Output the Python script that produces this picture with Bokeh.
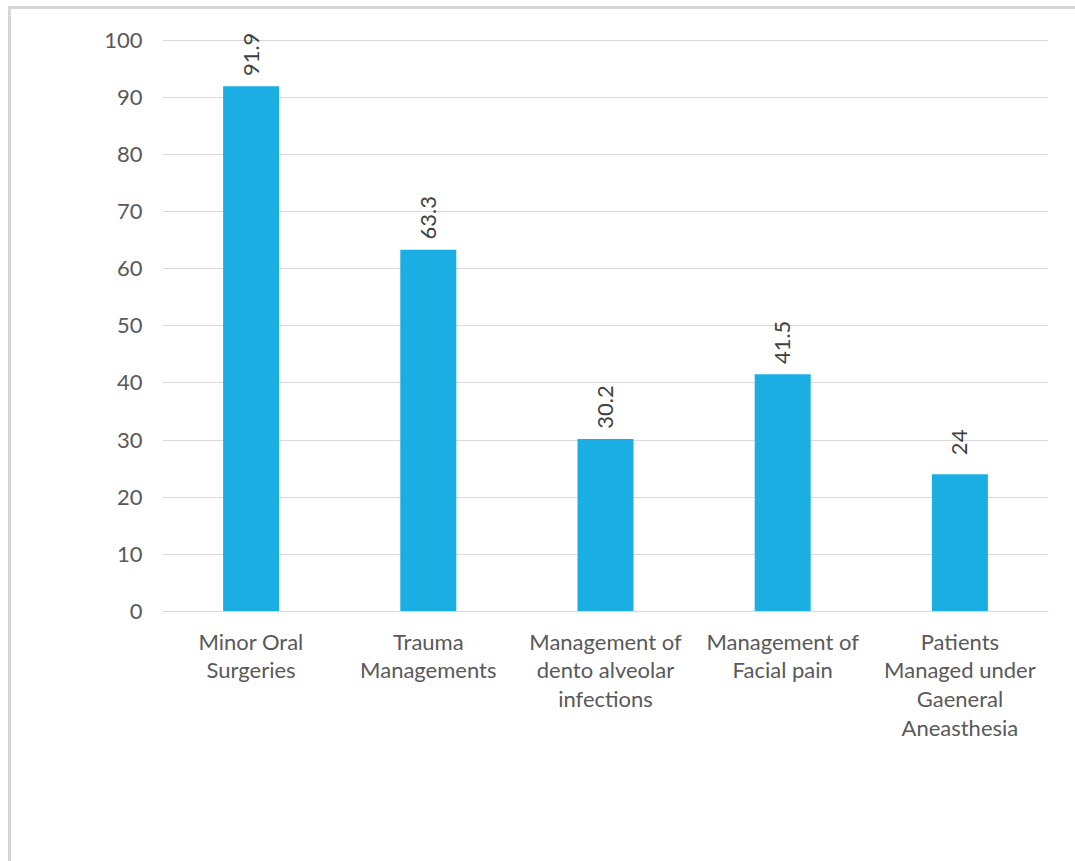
from bokeh.plotting import figure
from bokeh.models import ColumnDataSource, LabelSet, Range1d, FixedTicker
from bokeh.core.properties import value
from bokeh.embed import file_html
from bokeh.resources import INLINE

categories = [
    "Minor Oral\nSurgeries",
    "Trauma\nManagements",
    "Management of\ndento alveolar\ninfections",
    "Management of\nFacial pain",
    "Patients\nManaged under\nGaeneral\nAneasthesia",
]
values = [91.9, 63.3, 30.2, 41.5, 24]
value_labels = ["91.9", "63.3", "30.2", "41.5", "24"]
y_ticks = [0, 10, 20, 30, 40, 50, 60, 70, 80, 90, 100]

FONT = "Lato"
TEXT = "#595959"
BAR = "#1BAEE3"
GRID = "#d9d9d9"

source = ColumnDataSource(dict(cat=categories, val=values, lab=value_labels))

p = figure(
    x_range=categories,
    y_range=Range1d(0, 105),
    frame_width=886,
    frame_height=600,
    min_border_left=151,
    min_border_right=27,
    min_border_top=2,
    min_border_bottom=250,
    output_backend="svg",
    toolbar_location=None,
)
p.styles = {
    "margin-left": "8px",
    "margin-top": "6px",
    "border-left": "3px solid #d6d6d6",
    "border-top": "3px solid #d6d6d6",
}

p.vbar(x="cat", top="val", width=0.316, source=source, fill_color=BAR, line_color=None)

labels = LabelSet(
    x="cat", y="val", text="lab", source=source,
    angle=1.5707963, text_align="center", text_baseline="middle",
    x_offset=0, y_offset=32,
    text_font=value(FONT), text_font_size="22px", text_color="#404040",
)
p.add_layout(labels)

p.outline_line_color = None
p.background_fill_color = "white"
p.border_fill_color = "white"

p.xgrid.grid_line_color = None
p.ygrid.grid_line_color = GRID
p.ygrid.grid_line_width = 1

p.yaxis.ticker = FixedTicker(ticks=y_ticks)
p.yaxis.axis_line_color = None
p.yaxis.major_tick_line_color = None
p.yaxis.minor_tick_line_color = None
p.yaxis.major_label_standoff = 14
p.yaxis.major_label_text_font = FONT
p.yaxis.major_label_text_font_size = "22px"
p.yaxis.major_label_text_color = TEXT

p.xaxis.axis_line_color = GRID
p.xaxis.axis_line_width = 1
p.xaxis.major_tick_line_color = None
p.xaxis.minor_tick_line_color = None
p.xaxis.major_label_standoff = 10
p.xaxis.major_label_text_font = FONT
p.xaxis.major_label_text_font_size = "22px"
p.xaxis.major_label_text_color = TEXT
p.xaxis.major_label_text_line_height = 1.07
p.xaxis.major_label_orientation = "horizontal"
p.x_range.range_padding = 0

open("out.html", "w").write(file_html(p, INLINE))
